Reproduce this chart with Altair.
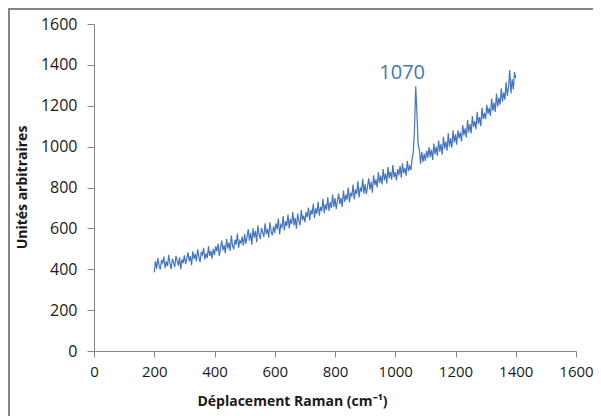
import altair as alt
import pandas as pd

# Raman shift grid (cm-1), one reading every 4 cm-1 from 200 to 1400
shift = list(range(200, 1401, 4))

# Intensity (arbitrary units)
intensity = [
    # 200-296
    385, 440, 402, 455, 420, 398, 445, 430, 462, 405, 438, 415, 470, 428, 400, 452, 435, 410, 465, 442, 418, 458, 400, 448, 430,
    # 300-396
    468, 425, 455, 482, 438, 465, 420, 488, 450, 475, 440, 498, 462, 435, 485, 470, 505, 448, 478, 455, 512, 465, 490, 452, 500,
    # 400-496
    470, 512, 488, 525, 465, 505, 540, 492, 518, 478, 548, 502, 530, 490, 565, 515, 498, 545, 520, 575, 505, 540, 528, 560, 515,
    # 500-596
    572, 525, 558, 595, 540, 578, 520, 600, 555, 588, 532, 615, 570, 548, 602, 580, 558, 625, 572, 598, 555, 630, 585, 565, 610,
    # 600-696
    578, 625, 595, 648, 570, 618, 605, 660, 590, 635, 612, 668, 600, 645, 622, 680, 615, 650, 598, 672, 638, 615, 690, 640, 662,
    # 700-796
    630, 680, 655, 702, 640, 690, 668, 720, 650, 698, 672, 730, 662, 705, 685, 745, 675, 718, 690, 752, 685, 728, 700, 765, 705,
    # 800-896
    748, 695, 735, 770, 718, 750, 705, 785, 730, 765, 740, 800, 728, 775, 755, 815, 742, 790, 768, 830, 752, 800, 780, 842, 770,
    # 900-996
    815, 768, 805, 845, 790, 828, 775, 860, 812, 840, 800, 875, 822, 858, 815, 890, 835, 868, 820, 900, 845, 878, 838, 910, 850,
    # 1000-1096
    875, 835, 890, 860, 905, 848, 918, 870, 895, 858, 930, 880, 905, 885, 940, 975, 1085, 1295, 1160, 1010, 985, 915, 975, 925, 965,
    # 1100-1196
    930, 980, 945, 998, 950, 985, 935, 1015, 962, 1000, 955, 1030, 975, 1012, 960, 1048, 990, 1025, 980, 1065, 1000, 1040, 995, 1080, 1020,
    # 1200-1296
    1060, 1010, 1080, 1040, 1070, 1025, 1105, 1055, 1090, 1045, 1130, 1070, 1110, 1065, 1150, 1095, 1125, 1085, 1170, 1110, 1145, 1100, 1190, 1135, 1165,
    # 1300-1400
    1135, 1205, 1160, 1190, 1150, 1235, 1175, 1215, 1170, 1260, 1195, 1240, 1205, 1285, 1220, 1265, 1230, 1315, 1248, 1290, 1375, 1260, 1330, 1280, 1365, 1335,
]

peak_label = ["1070"]
peak_label_x = [1023]
peak_label_y = [1360]

x_ticks = [0, 200, 400, 600, 800, 1000, 1200, 1400, 1600]
y_ticks = [0, 200, 400, 600, 800, 1000, 1200, 1400, 1600]

df = pd.DataFrame({"shift": shift, "intensity": intensity})
ann = pd.DataFrame({"x": peak_label_x, "y": peak_label_y, "t": peak_label})

FONT = "Open Sans"
BLUE = "#4475BE"
AXIS_GRAY = "#868686"
TXT = "#1a1a1a"

x_enc = alt.X(
    "shift:Q",
    scale=alt.Scale(domain=[0, 1600], nice=False),
    axis=alt.Axis(
        values=x_ticks, format="d", title="Déplacement Raman (cm⁻¹)", grid=False,
        domainColor=AXIS_GRAY, tickColor=AXIS_GRAY, tickSize=6,
        labelPadding=7, labelFont=FONT, labelFontSize=15, labelColor=TXT,
        labelFlush=False, labelOverlap=False,
        titleFont=FONT, titleFontSize=14, titleFontWeight="bold", titleColor=TXT,
        titleX=198, titleY=50, titleAlign="center", titleBaseline="middle",
    ),
)
y_enc = alt.Y(
    "intensity:Q",
    scale=alt.Scale(domain=[0, 1600], nice=False),
    axis=alt.Axis(
        values=y_ticks, format="d", title="Unités arbitraires", grid=False,
        domainColor=AXIS_GRAY, tickColor=AXIS_GRAY, tickSize=7,
        labelPadding=10, labelFont=FONT, labelFontSize=16, labelColor=TXT,
        labelFlush=False, labelOverlap=False,
        titleFont=FONT, titleFontSize=14, titleFontWeight="bold", titleColor=TXT,
        titleX=-72, titleY=163, titleAngle=-90, titleAlign="center", titleBaseline="middle",
    ),
)

line = alt.Chart(df).mark_line(color=BLUE, strokeWidth=1.2).encode(
    x=x_enc, y=y_enc, order="shift:Q"
)

label = alt.Chart(ann).mark_text(
    color=BLUE, font=FONT, fontSize=20, align="center", baseline="middle"
).encode(x=alt.X("x:Q"), y=alt.Y("y:Q"), text="t:N")

frame_top = alt.Chart(ann).mark_rule(color=AXIS_GRAY, strokeWidth=2).encode(
    x=alt.value(-86), x2=alt.value(520), y=alt.value(-15)
)
frame_left = alt.Chart(ann).mark_rule(color=AXIS_GRAY, strokeWidth=2).encode(
    x=alt.value(-85), y=alt.value(-16), y2=alt.value(420)
)

chart = (
    alt.layer(frame_top, frame_left, line, label)
    .properties(
        width=482, height=327,
        padding={"left": 86, "top": 16, "right": 17, "bottom": 65},
        autosize=alt.AutoSizeParams(type="none"),
        background="white",
    )
    .configure_view(stroke=None)
)

chart.save("out.html", embed_options={"renderer": "svg", "actions": False})
